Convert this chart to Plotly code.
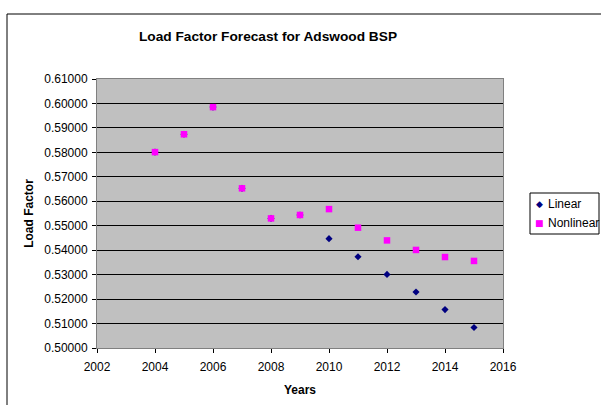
import plotly.graph_objects as go

years = [2004, 2005, 2006, 2007, 2008, 2009, 2010, 2011, 2012, 2013, 2014, 2015]
linear = [0.5801, 0.5874, 0.5985, 0.5653, 0.5530, 0.5544, 0.5447, 0.5373, 0.5301, 0.5229, 0.5157, 0.5084]
nonlinear = [0.5801, 0.5874, 0.5985, 0.5653, 0.5530, 0.5544, 0.5568, 0.5492, 0.5440, 0.5401, 0.5372, 0.5356]
y_ticks = [0.50, 0.51, 0.52, 0.53, 0.54, 0.55, 0.56, 0.57, 0.58, 0.59, 0.60, 0.61]
x_ticks = [2002, 2004, 2006, 2008, 2010, 2012, 2014, 2016]
series_names = ["Linear", "Nonlinear"]
series_colors = ["#000080", "#FF00FF"]
series_glyphs = ["◆", "■"]

FONT = "Liberation Sans, Arial, sans-serif"

fig = go.Figure()
fig.add_trace(go.Scatter(x=years, y=linear, mode="markers", name=series_names[0],
                         marker=dict(symbol="diamond", size=5.5, color=series_colors[0])))
fig.add_trace(go.Scatter(x=years, y=nonlinear, mode="markers", name=series_names[1],
                         marker=dict(symbol="square", size=6.5, color=series_colors[1])))

L, R, T, B = 97, 503, 79, 348
W, H = 601, 405
pw, ph = R - L, B - T

def px(x):
    return (x - L) / pw

def py(y):
    return (B - y) / ph

fig.update_layout(
    width=W, height=H,
    margin=dict(l=L, r=W - R, t=T, b=H - B, pad=0, autoexpand=False),
    paper_bgcolor="white",
    plot_bgcolor="#C0C0C0",
    font=dict(family=FONT, size=12, color="black"),
    title=dict(text="<b>Load Factor Forecast for Adswood BSP</b>",
               x=268 / W, xanchor="center", y=1 - 36 / H, yanchor="middle",
               font=dict(size=13.7, family=FONT, color="black")),
    showlegend=False,
    xaxis=dict(range=[2002, 2016], tickvals=x_ticks, ticks="outside", ticklen=4,
               tickcolor="black", showline=True, linecolor="#808080", linewidth=1,
               mirror=True, showgrid=False, zeroline=False,
               tickfont=dict(size=12), ticklabelstandoff=4,
               title=dict(text="<b>Years</b>", font=dict(size=12), standoff=12)),
    yaxis=dict(range=[0.50, 0.61], tickvals=y_ticks, tickformat=".5f", ticks="outside",
               ticklen=4, tickcolor="black", showline=True, linecolor="#808080",
               linewidth=1, mirror=True, showgrid=True, gridcolor="black", gridwidth=1,
               zeroline=False, tickfont=dict(size=12), ticklabelstandoff=2,
               title=dict(text="<b>Load Factor</b>", font=dict(size=12), standoff=8)),
)

# outer chart frame
fig.add_shape(type="rect", xref="paper", yref="paper",
              x0=px(7), x1=px(W + 5), y0=py(H + 5), y1=py(14),
              line=dict(color="black", width=1), fillcolor="rgba(0,0,0,0)", layer="below")

# legend box
fig.add_shape(type="rect", xref="paper", yref="paper",
              x0=px(530), x1=px(599), y0=py(234), y1=py(193),
              line=dict(color="black", width=1), fillcolor="white", layer="above")
row_y = [204, 223]
for name, col, glyph, ry in zip(series_names, series_colors, series_glyphs, row_y):
    fig.add_annotation(xref="paper", yref="paper", x=px(539), y=py(ry),
                       text=glyph, showarrow=False, xanchor="center", yanchor="middle",
                       font=dict(size=9, color=col, family="DejaVu Sans"))
    fig.add_annotation(xref="paper", yref="paper", x=px(546), y=py(ry),
                       text=name, showarrow=False, xanchor="left", yanchor="middle",
                       font=dict(size=12, color="black", family=FONT))

fig.write_html("out.html", config={"displayModeBar": False},
               post_script="document.body.style.margin='0';")
